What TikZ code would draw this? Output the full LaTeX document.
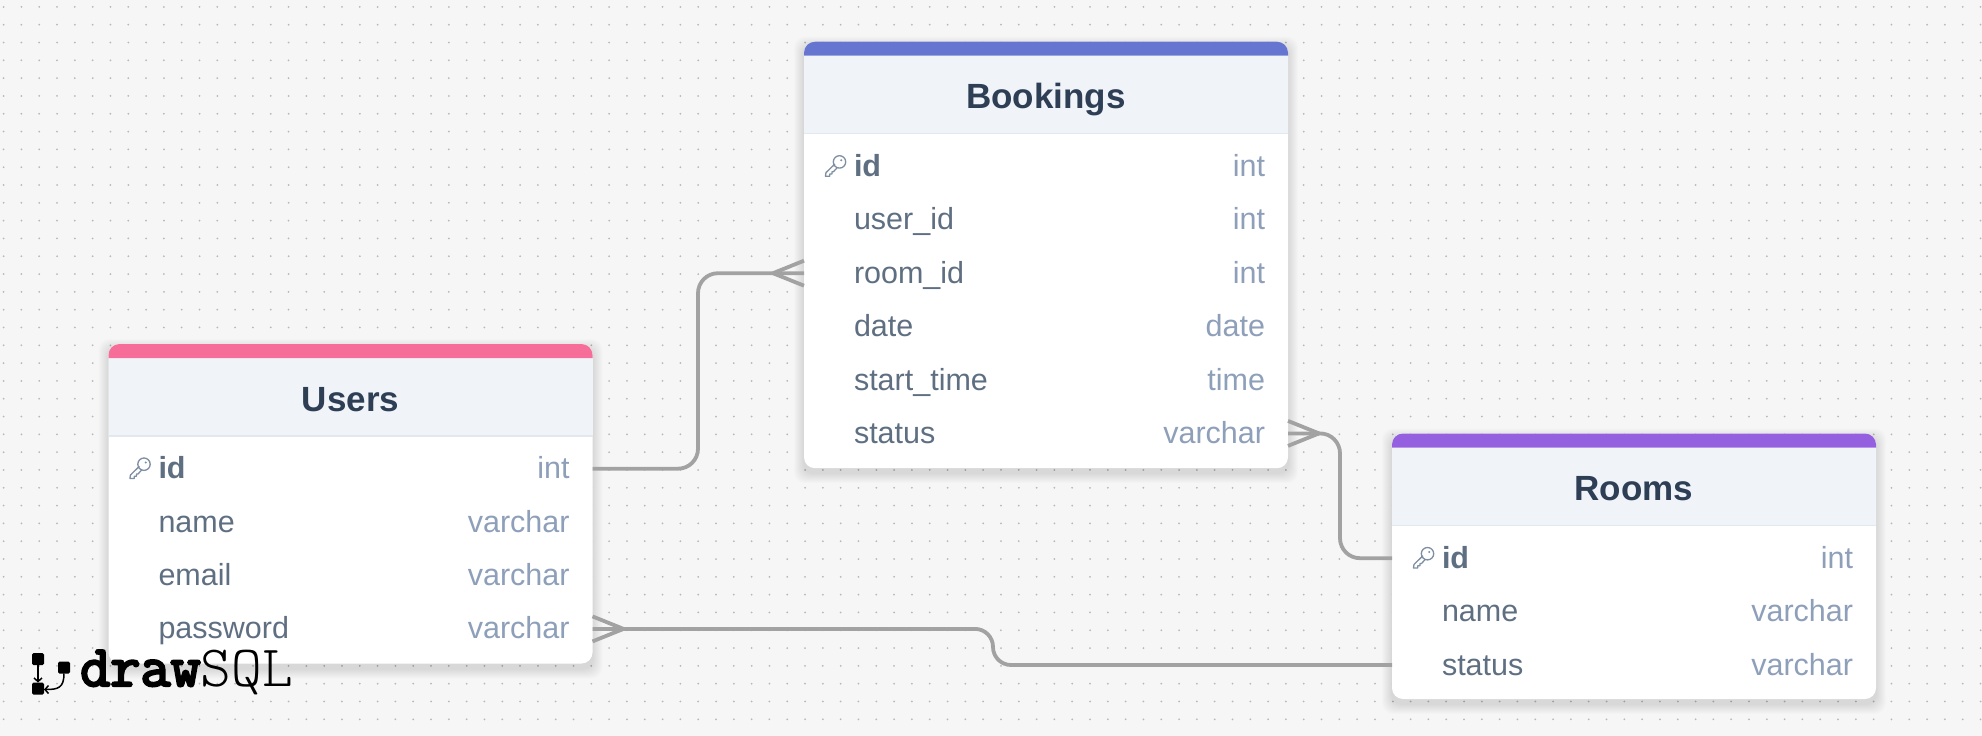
\documentclass[tikz,border=0pt]{standalone}
\usepackage{fontspec}
\setmainfont{Liberation Sans}
\newfontfamily\logoheavy[FakeBold=4]{Latin Modern Mono}
\newfontfamily\logolight{Latin Modern Mono Light}
\definecolor{PageGrey}{HTML}{F6F6F6}
\definecolor{DotGrey}{HTML}{B8B8B8}
\definecolor{LineGrey}{HTML}{A2A2A2}
\definecolor{HeadFill}{HTML}{F0F4F9}
\definecolor{HeadRule}{HTML}{E2E8F0}
\definecolor{TitleInk}{HTML}{2D3E55}
\definecolor{RowInk}{HTML}{5F6F82}
\definecolor{TypeInk}{HTML}{8E9FBA}
\definecolor{KeyInk}{HTML}{7F8FA3}
\definecolor{UsersBar}{HTML}{F76D9A}
\definecolor{BookingsBar}{HTML}{6675CF}
\definecolor{RoomsBar}{HTML}{9560E0}
\usetikzlibrary{
  calc,
  positioning,
  arrows.meta,
  backgrounds
}
\newcommand{\rowtext}[2]{\hspace*{50pt}#1\hfill{\color{TypeInk}#2}\hspace*{23pt}}

\begin{document}
\begin{tikzpicture}[
    x=1pt, y=-1pt,
    node distance=0pt,
    card/.style={
      rectangle, rounded corners=11pt, fill=white, anchor=north west,
      minimum width=484pt, inner sep=0pt, outer sep=0pt
    },
    tablehead/.style={
      rectangle, fill=HeadFill, minimum width=484pt, minimum height=78pt,
      text height=28pt, text depth=0pt,
      inner sep=0pt, outer sep=0pt, text=TitleInk,
      font=\fontsize{35}{40}\selectfont\bfseries
    },
    tablerow/.style={
      rectangle, text width=484pt, minimum height=53.4pt,
      text height=24pt, text depth=4pt, align=left,
      inner sep=0pt, outer sep=0pt, text=RowInk,
      font=\fontsize{30.5}{34}\selectfont
    },
    relline/.style={draw=LineGrey, line width=3.8pt},
    logobox/.style={
      rectangle, fill=black, rounded corners=1.5pt,
      minimum size=12pt, inner sep=0pt, outer sep=0pt
    },
    logoarr/.style={black, line width=1.5pt,
      -{Straight Barb[length=3.5pt,width=8pt]}},
    crowfoot/.pic={
      \draw[relline, line join=round] (0,-12.5) -- (31,0) -- (0,12.5);
    },
    pkey/.pic={
      \draw[KeyInk, line width=1.3pt, line join=round]
        (4.5,-4.5) circle (6.2pt)
        (-0.1,-2.4) -- (-9,6.2) -- (-9.6,9.8) -- (-5.2,9.8) -- (-5.2,7.6)
        -- (-3,7.6) -- (-3,5.4) -- (-1.4,5.2) -- (2.2,1.2);
      \fill[KeyInk] (6.2,-6.2) circle (1.1pt);
    }
  ]
    \useasboundingbox (0,0) rectangle (1982,736);

    % Users
    \node[card, minimum height=319.5pt] (users) at (108.5,344) {};
    \node[tablehead, below=14pt of users.north] (users-head) {Users};
    \node[tablerow, below=6pt of users-head] (users-id)
      {\rowtext{\textbf{id}}{int}};
    \node[tablerow, below=of users-id] (users-name)
      {\rowtext{name}{varchar}};
    \node[tablerow, below=of users-name] (users-email)
      {\rowtext{email}{varchar}};
    \node[tablerow, below=of users-email] (users-password)
      {\rowtext{password}{varchar}};

    % Bookings
    \node[card, minimum height=426.5pt] (bookings) at (804,41.7) {};
    \node[tablehead, below=14pt of bookings.north] (bookings-head) {Bookings};
    \node[tablerow, below=6pt of bookings-head] (bookings-id)
      {\rowtext{\textbf{id}}{int}};
    \node[tablerow, below=of bookings-id] (bookings-user)
      {\rowtext{user\_id}{int}};
    \node[tablerow, below=of bookings-user] (bookings-room)
      {\rowtext{room\_id}{int}};
    \node[tablerow, below=of bookings-room] (bookings-date)
      {\rowtext{date}{date}};
    \node[tablerow, below=of bookings-date] (bookings-start)
      {\rowtext{start\_time}{time}};
    \node[tablerow, below=of bookings-start] (bookings-status)
      {\rowtext{status}{varchar}};

    % Rooms
    \node[card, minimum height=265.5pt] (rooms) at (1392,433.5) {};
    \node[tablehead, below=14pt of rooms.north] (rooms-head) {Rooms};
    \node[tablerow, below=6pt of rooms-head] (rooms-id)
      {\rowtext{\textbf{id}}{int}};
    \node[tablerow, below=of rooms-id] (rooms-name)
      {\rowtext{name}{varchar}};
    \node[tablerow, below=of rooms-name] (rooms-status)
      {\rowtext{status}{varchar}};

    % dotted canvas and soft shadows
    \begin{scope}[on background layer]
      \fill[PageGrey] (0,0) rectangle (1982,736);
      \foreach \i in {0,...,111}
        \foreach \j in {0,...,41}
          \fill[DotGrey] ({3.6+17.81*\i},{6.9+17.81*\j}) circle (1pt);
      \foreach \tbl in {users, bookings, rooms}
        \foreach \s in {1,...,10}
          \fill[black, opacity=.011, rounded corners=11pt]
            ($(\tbl.north west)+(-\s,5-\s)$) rectangle ($(\tbl.south east)+(\s,5+\s)$);
    \end{scope}

    % colour bars, header rules, key icons
    \foreach \tbl/\barcol in {users/UsersBar, bookings/BookingsBar, rooms/RoomsBar} {
      \fill[\barcol] ($(\tbl.north west)+(0,14)$) [rounded corners=11pt]
        -- (\tbl.north west) -- (\tbl.north east) [sharp corners]
        -- ($(\tbl.north east)+(0,14)$) -- cycle;
      \draw[HeadRule, line width=1.5pt]
        (\tbl-head.south west) -- (\tbl-head.south east);
      \pic at ([xshift=31pt]\tbl-id.west) {pkey};
    }

    % relations
    \coordinate (bend-a) at (698,0);
    \coordinate (bend-b) at (1340,0);
    \coordinate (bend-c) at (993,0);
    \draw[relline, rounded corners=20pt] (users-id.east)
      -- (users-id.east -| bend-a) -- (bookings-room.west -| bend-a)
      -- (bookings-room.west);
    \pic[xscale=-1] at (bookings-room.west) {crowfoot};
    \draw[relline, rounded corners=20pt] (bookings-status.east)
      -- (bookings-status.east -| bend-b) -- (rooms-id.west -| bend-b)
      -- (rooms-id.west);
    \pic at (bookings-status.east) {crowfoot};
    \draw[relline, rounded corners=18pt] (users-password.east)
      -- (users-password.east -| bend-c) -- (rooms-status.west -| bend-c)
      -- (rooms-status.west);
    \pic at (users-password.east) {crowfoot};

    % logo
    \node[logobox] (logo-top) at (38,659) {};
    \node[logobox] (logo-low) at (38,688.5) {};
    \node[logobox] (logo-right) at (64,667.5) {};
    \draw[logoarr] (logo-top.south) -- (logo-low.north);
    \draw[logoarr] (logo-right.south) .. controls (64,688) and (58,689.5) .. (logo-low.east |- 0,689.5);
    \node[anchor=base west, inner sep=0pt, font=\fontsize{58.5}{62}\selectfont] (logo-word)
      at (80,686) {{\logoheavy draw}{\logolight SQL}};
\end{tikzpicture}
\end{document}
